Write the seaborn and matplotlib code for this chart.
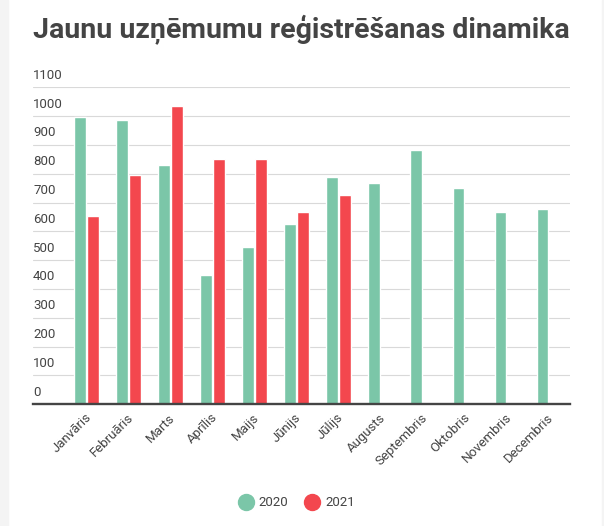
import pandas as pd
import numpy as np
import matplotlib
matplotlib.use("Agg")
import matplotlib.pyplot as plt
import matplotlib.transforms as mtransforms
from matplotlib.lines import Line2D
from matplotlib.patches import Rectangle
import seaborn as sns

months = ['Janvāris', 'Februāris', 'Marts', 'Aprīlis', 'Maijs', 'Jūnijs',
          'Jūlijs', 'Augusts', 'Septembris', 'Oktobris', 'Novembris', 'Decembris']
values_2020 = [997, 987, 829, 447, 546, 626, 788, 768, 882, 750, 667, 678]
values_2021 = [653, 794, 1034, 851, 851, 667, 727, np.nan, np.nan, np.nan, np.nan, np.nan]
y_ticks = [0, 100, 200, 300, 400, 500, 600, 700, 800, 900, 1000, 1100]

df = pd.DataFrame({
    'Mēnesis': months * 2,
    'Gads': ['2020'] * 12 + ['2021'] * 12,
    'Skaits': values_2020 + values_2021,
})

green = '#7bc6a8'
red = '#f3474e'
text_col = '#444444'

sns.set_style('white')
plt.rcParams['font.family'] = ['Roboto', 'DejaVu Sans']

W, H = 604, 526
fig = plt.figure(figsize=(W / 100, H / 100), dpi=100, facecolor='white')
fig.patches.append(Rectangle((0, 0), 8 / W, 1, transform=fig.transFigure,
                             color='#f4f4f4', zorder=0))
fig.patches.append(Rectangle((602 / W, 0), 2 / W, 1, transform=fig.transFigure,
                             color='#f4f4f4', zorder=0))

left, right, top, bottom = 33, 570, 87.3, 404.1
ax = fig.add_axes([left / W, 1 - bottom / H, (right - left) / W, (bottom - top) / H])

sns.barplot(data=df, x='Mēnesis', y='Skaits', hue='Gads', order=months,
            hue_order=['2020', '2021'], palette=[green, red], saturation=1,
            width=0.62, gap=0.1, legend=False, ax=ax, zorder=3)

ax.set_xlim(-1.274, 11.5)
ax.set_ylim(0, 1100)
ax.set_xlabel('')
ax.set_ylabel('')

for s in ['top', 'right', 'left']:
    ax.spines[s].set_visible(False)
ax.spines['bottom'].set_color(text_col)
ax.spines['bottom'].set_linewidth(1.7)
ax.spines['bottom'].set_zorder(5)

ax.set_yticks(y_ticks)
ax.set_yticklabels([str(v) for v in y_ticks])
ax.yaxis.grid(True, color='#d9d9d9', linewidth=0.8, zorder=0)
ax.set_axisbelow(True)
ax.tick_params(axis='y', length=0, pad=0, labelsize=9.5, labelcolor=text_col)
ydy = mtransforms.ScaledTranslation(0, 4 / 72, fig.dpi_scale_trans)
for lab in ax.get_yticklabels():
    lab.set_horizontalalignment('left')
    lab.set_verticalalignment('bottom')
    lab.set_transform(lab.get_transform() + ydy)

ax.set_xticks(range(len(months)))
ax.set_xticklabels(months, rotation=45, ha='right', va='top', rotation_mode='anchor')
ax.set_xticks(np.arange(-0.5, 12, 1), minor=True)
ax.tick_params(axis='x', which='major', length=0, pad=5, labelsize=9.5, labelcolor=text_col)
ax.tick_params(axis='x', which='minor', length=6.5, width=0.8, color=text_col, direction='out')
xdx = mtransforms.ScaledTranslation(-2 / 100, 0, fig.dpi_scale_trans)
for lab in ax.get_xticklabels():
    lab.set_transform(lab.get_transform() + xdx)

fig.text(left / W, 1 - 38 / H, 'Jaunu uzņēmumu reģistrēšanas dinamika',
         fontsize=20.5, fontweight='bold', color=text_col, va='baseline', ha='left')

handles = [Line2D([], [], marker='o', linestyle='', markersize=11.5,
                  markerfacecolor=c, markeredgecolor=c) for c in (green, red)]
fig.legend(handles, ['2020', '2021'], loc='center', bbox_to_anchor=(297 / W, 1 - 503 / H),
           ncol=2, frameon=False, fontsize=9.5, labelcolor=text_col,
           handletextpad=0.5, columnspacing=1.3, handlelength=1.0)

fig.savefig('out.png', dpi=100, facecolor='white')
